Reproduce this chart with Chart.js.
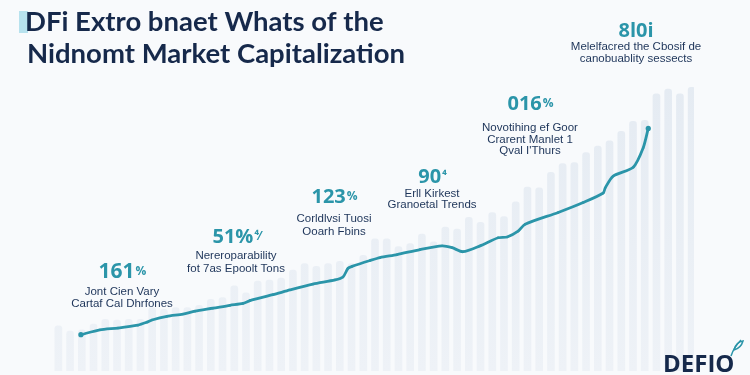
<!DOCTYPE html>
<html>
<head>
<meta charset="utf-8">
<script src="https://cdn.jsdelivr.net/npm/chart.js@4.4.1/dist/chart.umd.min.js"></script>
<style>
  html, body { margin: 0; padding: 0; background: #f8fafc; }
  #wrap { width: 750px; height: 375px; position: relative; }
</style>
</head>
<body>
<div id="wrap"><canvas id="chartCap" width="750" height="375"></canvas></div>
<script>
// bar heights (background columns), 0..100 scale
const barValues = [
  12.3, 10.9, 11.2, 12.8, 14.1, 13.9, 14.1, 14.1, 17.3, 16.8,
  17.3, 17.3, 17.9, 19.5, 20.0, 23.2, 21.3, 24.5, 24.8, 25.3,
  27.5, 29.3, 28.5, 29.3, 29.9, 29.3, 31.5, 36.0, 36.0, 33.9,
  34.7, 37.3, 35.2, 39.2, 38.7, 41.9, 40.5, 43.2, 42.1, 46.1,
  50.1, 49.9, 54.1, 56.5, 56.8, 59.5, 61.3, 62.7, 65.3, 68.0,
  68.3, 75.5, 76.8, 75.5, 77.3
];
const categories = barValues.map((v, i) => 'P' + (i + 1));

// market cap line: position along the columns and value
const lineX = [
  2.22, 3.84, 5.38, 7.08, 7.85, 8.28, 9.56, 10.92, 11.95, 13.48,
  14.93, 16.04, 16.64, 18.6, 20.05, 22.01, 23.89, 24.57, 25.0, 25.34,
  26.88, 27.73, 29.18, 31.14, 33.02, 33.87, 34.81, 36.26, 37.8, 38.57,
  39.5, 40.1, 42.92, 45.05, 46.76, 46.93, 47.61, 49.32, 50.17, 50.6
];
const lineY = [
  9.9, 11.2, 11.7, 12.5, 13.3, 13.9, 14.9, 15.5, 16.3, 17.1,
  17.9, 18.4, 19.2, 20.8, 22.1, 23.7, 24.8, 25.6, 28.0, 28.5,
  30.1, 30.9, 31.7, 33.1, 34.1, 33.6, 32.5, 34.1, 36.3, 36.5,
  38.1, 40.0, 43.2, 45.9, 48.5, 49.9, 53.1, 55.5, 60.8, 66.1
];

const titleLines = ['DFi Extro bnaet Whats of the', 'Nidnomt Market Capitalization'];
const noteNumbers = ['161', '51%', '123', '90', '016', '8l0i'];
const noteSuffixes = ['%', '\u2074\u2044', '%', '\u2074', '%', ''];
const noteTexts = [
  ['Jont Cien Vary', 'Cartaf Cal Dhrfones'],
  ['Nereroparability', 'fot 7as Epoolt Tons'],
  ['Corldlvsi Tuosi', 'Ooarh Fbins'],
  ['Erll Kirkest', 'Granoetal Trends'],
  ['Novotihing ef Goor', 'Crarent Manlet 1', 'Qval I\'Thurs'],
  ['Melelfacred the Cbosif de', 'canobuablity sessects']
];
const logoText = 'DEFIO';

// layout of the annotation blocks (pixels): centre x, number baseline, text offset, line gap
const noteLayout = [
  { x: 122, y: 278, dy: 17, gap: 11.5, size: 21 },
  { x: 236, y: 243, dy: 16, gap: 13, size: 20 },
  { x: 334, y: 203, dy: 19, gap: 13, size: 20 },
  { x: 432, y: 183, dy: 14, gap: 10.5, size: 20 },
  { x: 530, y: 110, dy: 21, gap: 11.5, size: 20 },
  { x: 636, y: 37, dy: 13, gap: 12, size: 20 }
];

const TEAL = '#2b95a9';
const NAVY = '#16294b';

const textPlugin = {
  id: 'textPlugin',
  afterDraw(chart) {
    const c = chart.ctx;
    c.save();

    // title with pale block behind the first letter
    c.fillStyle = 'rgba(130,205,226,0.55)';
    c.fillRect(19, 11, 9, 22);
    c.fillStyle = NAVY;
    c.textAlign = 'left';
    c.textBaseline = 'alphabetic';
    c.font = 'bold 25px Lato';
    const w2 = c.measureText(titleLines[1]).width;
    const size = 25 * 378 / w2;
    c.font = 'bold ' + size.toFixed(1) + 'px Lato';
    c.fillText(titleLines[0], 25, 31);
    c.fillText(titleLines[1], 27, 63);

    // annotation blocks
    noteLayout.forEach((n, i) => {
      c.font = 'bold ' + n.size + 'px "Open Sans"';
      const numW = c.measureText(noteNumbers[i]).width;
      c.font = 'bold 12px "Open Sans"';
      const sufW = c.measureText(noteSuffixes[i]).width;
      const x0 = n.x - (numW + sufW) / 2;
      c.fillStyle = TEAL;
      c.textAlign = 'left';
      c.font = 'bold ' + n.size + 'px "Open Sans"';
      c.fillText(noteNumbers[i], x0, n.y);
      c.font = 'bold 12px "Open Sans"';
      c.fillText(noteSuffixes[i], x0 + numW + 1, n.y - 3);

      c.fillStyle = '#1d3459';
      c.textAlign = 'center';
      c.font = '11.5px "Liberation Sans"';
      noteTexts[i].forEach((t, k) => {
        c.fillText(t, n.x, n.y + n.dy + k * n.gap);
      });
    });

    // logo
    c.fillStyle = NAVY;
    c.textAlign = 'left';
    c.font = 'bold 24px "Open Sans"';
    c.fillText(logoText, 663, 372);
    c.strokeStyle = TEAL;
    c.lineWidth = 1.5;
    c.beginPath();
    c.moveTo(731, 356);
    c.quadraticCurveTo(734, 347, 741, 340);
    c.stroke();
    c.beginPath();
    c.moveTo(734, 350);
    c.quadraticCurveTo(736, 342, 743, 341);
    c.quadraticCurveTo(741, 348, 734, 350);
    c.stroke();

    c.restore();
  }
};

const ctx = document.getElementById('chartCap').getContext('2d');
const capChart = new Chart(ctx, {
  data: {
    labels: categories,
    datasets: [{
      type: 'line',
      label: 'Market cap',
      data: lineX.map((x, i) => ({ x: x, y: lineY[i] })),
      xAxisID: 'xl',
      borderColor: TEAL,
      backgroundColor: TEAL,
      borderWidth: 2.8,
      tension: 0.25,
      pointRadius: lineX.map((x, i) => (i === 0 || i === lineX.length - 1) ? 2.6 : 1.2),
      pointBorderWidth: 0,
      order: 0
    }, {
      type: 'bar',
      label: 'Columns',
      data: barValues,
      xAxisID: 'x',
      barThickness: 7,
      borderRadius: { topLeft: 3, topRight: 3 },
      borderSkipped: false,
      backgroundColor: function (context) {
        const area = context.chart.chartArea;
        if (!area) return '#e7edf3';
        const g = context.chart.ctx.createLinearGradient(0, area.top, 0, area.bottom);
        g.addColorStop(0, '#e2e9f1');
        g.addColorStop(1, '#eef2f7');
        return g;
      },
      order: 1
    }]
  },
  options: {
    responsive: false,
    animation: false,
    layout: { padding: { left: 49, right: 56, top: 0, bottom: 0 } },
    scales: {
      x: { type: 'category', display: false, offset: true },
      xl: { type: 'linear', display: false, min: -0.5, max: 54.5 },
      y: { display: false, min: 0, max: 100 }
    },
    plugins: {
      legend: { display: false },
      tooltip: { enabled: false }
    }
  },
  plugins: [textPlugin]
});
</script>
</body>
</html>
